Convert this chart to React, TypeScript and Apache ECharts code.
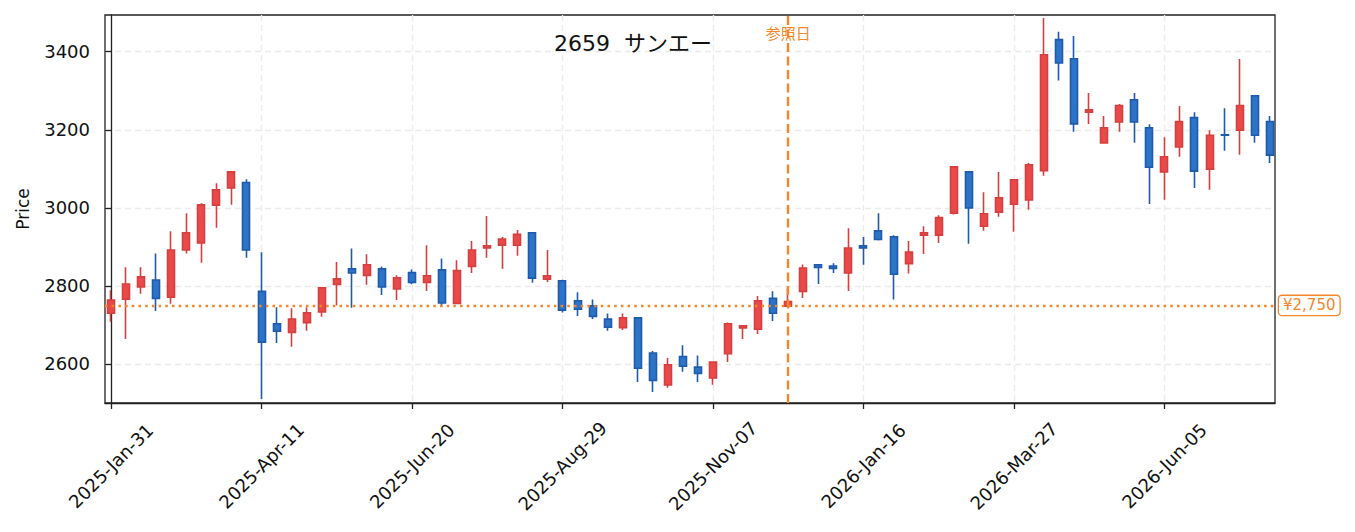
import { useEffect, useRef } from "react";
import * as echarts from "echarts";

const TITLE = "2659  サンエー";
const REF_LABEL = "参照日";
const REF_INDEX = 45;
const REF_PRICE = 2750;
const REF_LABEL_PRICE = 3445;

const tickIndex = [0, 10, 20, 30, 40, 50, 60, 70];
const tickLabels = [
  "2025-Jan-31",
  "2025-Apr-11",
  "2025-Jun-20",
  "2025-Aug-29",
  "2025-Nov-07",
  "2026-Jan-16",
  "2026-Mar-27",
  "2026-Jun-05",
];
const yTicks = [2600, 2800, 3000, 3200, 3400];

// weekly candles
const opens = [
  2730, 2766, 2797, 2815, 2771, 2892, 2910, 3007, 3051, 3065,
  2786, 2703, 2681, 2706, 2733, 2804, 2844, 2827, 2844, 2792,
  2834, 2809, 2841, 2755, 2850, 2897, 2904, 2904, 2936, 2817,
  2813, 2762, 2749, 2715, 2693, 2718, 2628, 2546, 2619, 2592,
  2564, 2626, 2692, 2689, 2768, 2748, 2786, 2854, 2851, 2833,
  2903, 2941, 2926, 2857, 2930, 2930, 2986, 3092, 2953, 2989,
  3009, 3020, 3095, 3431, 3382, 3245, 3166, 3220, 3277, 3205,
  3092, 3156, 3231, 3099, 3187, 3199, 3287, 3221,
];
const closes = [
  2764, 2805, 2823, 2768, 2892, 2936, 3008, 3046, 3092, 2892,
  2656, 2684, 2715, 2731, 2795, 2818, 2833, 2854, 2797, 2821,
  2809, 2826, 2756, 2839, 2892, 2903, 2920, 2932, 2820, 2826,
  2738, 2740, 2722, 2694, 2718, 2589, 2558, 2598, 2594, 2576,
  2605, 2703, 2698, 2762, 2730, 2760, 2846, 2847, 2845, 2897,
  2897, 2919, 2830, 2887, 2936, 2975, 3105, 3000, 2985, 3026,
  3072, 3110, 3392, 3371, 3215, 3251, 3205, 3262, 3220, 3104,
  3131, 3221, 3094, 3186, 3186, 3262, 3186, 3135,
];
const lows = [
  2708, 2664, 2780, 2736, 2754, 2883, 2859, 2949, 3008, 2872,
  2510, 2654, 2644, 2685, 2721, 2750, 2744, 2803, 2777, 2764,
  2804, 2787, 2746, 2755, 2833, 2872, 2844, 2877, 2808, 2810,
  2732, 2723, 2715, 2685, 2687, 2554, 2528, 2539, 2580, 2554,
  2547, 2605, 2664, 2677, 2710, 2748, 2769, 2805, 2833, 2787,
  2854, 2916, 2765, 2832, 2882, 2910, 2983, 2908, 2941, 2977,
  2939, 2995, 3082, 3326, 3195, 3215, 3166, 3195, 3167, 3010,
  3021, 3131, 3051, 3046, 3146, 3136, 3167, 3115,
];
const highs = [
  2789, 2848, 2848, 2883, 2940, 2986, 3012, 3063, 3092, 3073,
  2886, 2745, 2743, 2745, 2795, 2861, 2896, 2881, 2850, 2827,
  2842, 2904, 2870, 2866, 2915, 2979, 2925, 2943, 2936, 2892,
  2816, 2784, 2765, 2729, 2729, 2718, 2633, 2615, 2648, 2622,
  2605, 2706, 2698, 2774, 2786, 2796, 2855, 2854, 2858, 2948,
  2925, 2986, 2930, 2915, 2953, 2981, 3105, 3092, 3040, 3092,
  3072, 3115, 3486, 3451, 3440, 3294, 3235, 3266, 3294, 3214,
  3181, 3261, 3245, 3199, 3255, 3381, 3287, 3235,
];

const FONT = "'DejaVu Sans', 'Noto Sans CJK JP', sans-serif";
const ORANGE = "#f5862a";
const INK = "#222";

export default function App() {
  const chartRef = useRef<HTMLDivElement | null>(null);

  useEffect(() => {
    document.body.style.margin = "0";
    if (!chartRef.current) return;
    const chart = echarts.init(chartRef.current, undefined, { renderer: "svg" });
    const candles = opens.map((o, i) => [i, o, closes[i], lows[i], highs[i]]);

    chart.setOption({
      animation: false,
      textStyle: { fontFamily: FONT },
      title: {
        text: TITLE,
        left: 549,
        top: 27,
        textStyle: { fontSize: 22, fontWeight: "normal", color: "#111", fontFamily: FONT },
      },
      grid: {
        left: 105,
        top: 15,
        width: 1170,
        height: 388,
        show: true,
        borderColor: INK,
        borderWidth: 1.3,
      },
      xAxis: {
        type: "value",
        min: -0.4,
        max: 77.35,
        axisLine: { show: true, onZero: false, lineStyle: { color: INK, width: 1.3 } },
        axisTick: {
          show: true,
          length: 6,
          customValues: tickIndex,
          lineStyle: { color: INK, width: 1.3 },
        },
        axisLabel: {
          customValues: tickIndex,
          formatter: (v: number) => tickLabels[tickIndex.indexOf(v)] ?? "",
          rotate: 45,
          align: "center",
          verticalAlign: "middle",
          margin: 63,
          fontSize: 18,
          color: "#111",
        },
        splitLine: { show: true, lineStyle: { color: "#ebebeb", type: [6, 4], width: 1.3 } },
      },
      yAxis: {
        type: "value",
        min: 2500,
        max: 3494,
        name: "Price",
        nameLocation: "middle",
        nameGap: 74,
        nameTextStyle: { fontSize: 17, color: "#111" },
        axisLine: { show: true, lineStyle: { color: INK, width: 1.3 } },
        axisTick: { show: true, length: 6, customValues: yTicks, lineStyle: { color: INK, width: 1.3 } },
        axisLabel: {
          customValues: yTicks,
          formatter: (v: number) => String(v),
          margin: 15,
          fontSize: 18,
          color: "#111",
        },
        splitLine: { show: true, lineStyle: { color: "#ebebeb", type: [6, 4], width: 1.3 } },
      },
      series: [
        {
          type: "candlestick",
          data: candles,
          barWidth: 7.5,
          itemStyle: {
            color: "#e84a4a",
            color0: "#2b74c8",
            borderColor: "#d63f3f",
            borderColor0: "#1f5aab",
            borderWidth: 1.6,
          },
          markLine: {
            silent: true,
            symbol: ["none", "none"],
            animation: false,
            data: [
              {
                xAxis: REF_INDEX,
                lineStyle: { color: ORANGE, type: [9, 4.5], width: 2.4 },
                label: { show: false },
              },
              {
                yAxis: REF_PRICE,
                lineStyle: { color: ORANGE, type: [2.5, 4.2], width: 2.4 },
                label: {
                  show: true,
                  position: "end",
                  formatter: `¥${REF_PRICE.toLocaleString("en-US")}`,
                  color: ORANGE,
                  fontSize: 15,
                  backgroundColor: "#fff",
                  borderColor: ORANGE,
                  borderWidth: 1.3,
                  borderRadius: 3,
                  padding: [3, 4, 1, 4],
                  distance: 4,
                },
              },
            ],
          },
          markPoint: {
            silent: true,
            symbolSize: 0,
            animation: false,
            data: [
              {
                coord: [REF_INDEX, REF_LABEL_PRICE],
                label: {
                  show: true,
                  position: "inside",
                  formatter: REF_LABEL,
                  color: ORANGE,
                  fontSize: 15,
                },
              },
            ],
          },
        },
      ],
    });

    return () => {
      chart.dispose();
    };
  }, []);

  return <div ref={chartRef} style={{ width: 1355, height: 532 }} />;
}
